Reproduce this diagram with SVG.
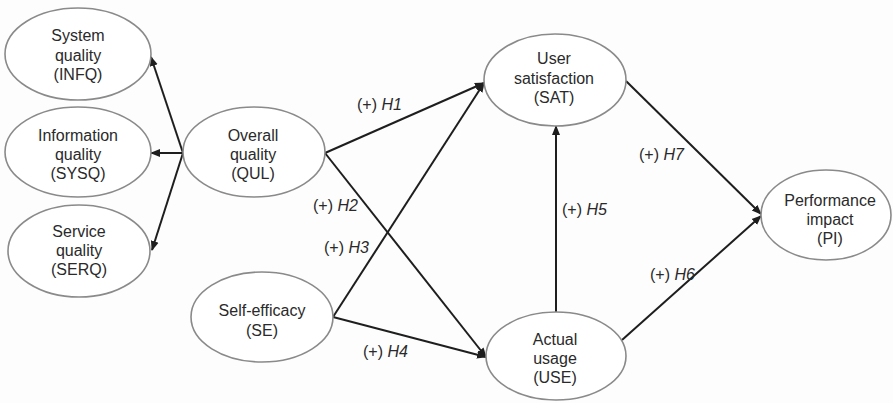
<svg xmlns="http://www.w3.org/2000/svg" width="893" height="403" viewBox="0 0 893 403">
<style>
.node ellipse{fill:#fff;stroke:#8a8a8a;stroke-width:1.6}
.node text{font-family:"Liberation Sans",Arial,sans-serif;font-size:16px;fill:#2a2a2a;text-anchor:middle}
.conn line{stroke:#1e1e1e;stroke-width:2;fill:none}
.lbl{font-family:"Liberation Sans",Arial,sans-serif;font-size:16px;fill:#2a2a2a}
.lbl tspan.h{font-style:italic}
</style>
<defs>
<marker id="ah" viewBox="0 0 10 10" refX="9" refY="5" markerWidth="5" markerHeight="5" orient="auto" markerUnits="strokeWidth">
<path d="M0,1 L10,5 L0,9 z" fill="#1e1e1e"/>
</marker>
</defs>
<rect width="893" height="403" fill="#fdfdfd"/>
<g id="connectors" class="conn">
<line x1="183" y1="153" x2="151" y2="57" marker-end="url(#ah)"/>
<line x1="183" y1="153" x2="151" y2="153" marker-end="url(#ah)"/>
<line x1="183" y1="153" x2="152" y2="250" marker-end="url(#ah)"/>
<line x1="325" y1="153" x2="484" y2="83" marker-end="url(#ah)"/>
<line x1="333" y1="317" x2="484" y2="83" marker-end="url(#ah)"/>
<line x1="325" y1="153" x2="486" y2="357" marker-end="url(#ah)"/>
<line x1="333" y1="317" x2="486" y2="357" marker-end="url(#ah)"/>
<line x1="556" y1="313" x2="556" y2="126" marker-end="url(#ah)"/>
<line x1="626" y1="81" x2="761" y2="214" marker-end="url(#ah)"/>
<line x1="622" y1="340" x2="761" y2="216" marker-end="url(#ah)"/>
</g>
<g id="labels">
<text class="lbl" x="357" y="110">(+) <tspan class="h">H1</tspan></text>
<text class="lbl" x="313" y="211">(+) <tspan class="h">H2</tspan></text>
<text class="lbl" x="324" y="253">(+) <tspan class="h">H3</tspan></text>
<text class="lbl" x="363" y="357">(+) <tspan class="h">H4</tspan></text>
<text class="lbl" x="562" y="215">(+) <tspan class="h">H5</tspan></text>
<text class="lbl" x="650" y="280">(+) <tspan class="h">H6</tspan></text>
<text class="lbl" x="639" y="160">(+) <tspan class="h">H7</tspan></text>
</g>
<g id="INFQ" class="node">
<ellipse cx="78" cy="54" rx="73" ry="46"/>
<text x="78" y="41">System</text>
<text x="78" y="61">quality</text>
<text x="78" y="80">(INFQ)</text>
</g>
<g id="SYSQ" class="node">
<ellipse cx="78" cy="152" rx="73" ry="45"/>
<text x="78" y="141">Information</text>
<text x="78" y="160">quality</text>
<text x="78" y="179">(SYSQ)</text>
</g>
<g id="SERQ" class="node">
<ellipse cx="79" cy="251" rx="71" ry="46"/>
<text x="79" y="237">Service</text>
<text x="79" y="256">quality</text>
<text x="79" y="275">(SERQ)</text>
</g>
<g id="QUL" class="node">
<ellipse cx="254" cy="152" rx="71" ry="45"/>
<text x="253" y="141">Overall</text>
<text x="253" y="160">quality</text>
<text x="253" y="179">(QUL)</text>
</g>
<g id="SE" class="node">
<ellipse cx="262" cy="317" rx="71" ry="45"/>
<text x="262" y="316">Self-efficacy</text>
<text x="262" y="336">(SE)</text>
</g>
<g id="SAT" class="node">
<ellipse cx="555" cy="80" rx="71" ry="46"/>
<text x="554" y="64">User</text>
<text x="554" y="84">satisfaction</text>
<text x="554" y="103">(SAT)</text>
</g>
<g id="USE" class="node">
<ellipse cx="556" cy="356" rx="70" ry="44"/>
<text x="555" y="345">Actual</text>
<text x="555" y="364">usage</text>
<text x="555" y="383">(USE)</text>
</g>
<g id="PI" class="node">
<ellipse cx="826" cy="215" rx="65" ry="45"/>
<text x="830" y="206">Performance</text>
<text x="830" y="225">impact</text>
<text x="830" y="244">(PI)</text>
</g>
</svg>
